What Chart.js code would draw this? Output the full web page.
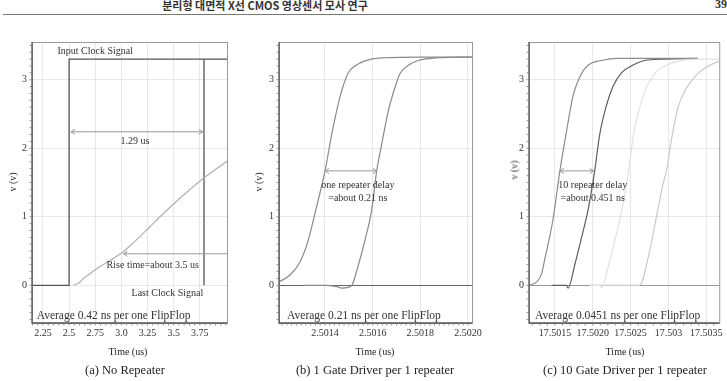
<!DOCTYPE html>
<html>
<head>
<meta charset="utf-8">
<script src="https://cdn.jsdelivr.net/npm/chart.js@4.4.0/dist/chart.umd.min.js"></script>
<style>
  body { margin: 0; background: #fff; width: 727px; height: 381px; overflow: hidden; position: relative; font-family: 'Liberation Serif', serif; color: #222; }
  canvas { position: absolute; left: 0; top: 0; }
  .t { position: absolute; white-space: nowrap; transform: translate(-50%, -50%); }
  .yl { position: absolute; white-space: nowrap; transform: translate(-50%, -50%) rotate(-90deg); font-size: 10px; color: #333; }
  .head { position: absolute; top: -3px; left: 265px; transform: translateX(-50%); font-family: 'Noto Sans CJK KR', sans-serif; font-weight: bold; font-size: 11px; color: #333; white-space: nowrap; }
  .page { position: absolute; top: -3px; right: 0px; font-weight: bold; font-size: 12px; color: #333; }
  .rule { position: absolute; top: 14px; left: 3px; width: 724px; height: 0; border-top: 1.5px solid #777; }
</style>
</head>
<body>
<div class="head">분리형 대면적 X선 CMOS 영상센서 모사 연구</div>
<div class="page">39</div>
<div class="rule"></div>

<canvas id="noRepChart" width="727" height="381"></canvas>
<canvas id="oneRepChart" width="727" height="381"></canvas>
<canvas id="tenRepChart" width="727" height="381"></canvas>

<div class="yl" style="left:12px;top:182px">v (v)</div>
<div class="yl" style="left:258px;top:182px">v (v)</div>
<div class="yl" style="left:514px;top:170px">v (v)</div>

<div class="t" style="left:128px;top:351px;font-size:10px">Time (us)</div>
<div class="t" style="left:375px;top:351px;font-size:10px">Time (us)</div>
<div class="t" style="left:625px;top:351px;font-size:10px">Time (us)</div>

<div class="t" style="left:125px;top:370px;font-size:12.5px">(a) No Repeater</div>
<div class="t" style="left:375px;top:370px;font-size:12.5px">(b) 1 Gate Driver per 1 repeater</div>
<div class="t" style="left:625px;top:370px;font-size:12.5px">(c) 10 Gate Driver per 1 repeater</div>

<script>
// shared y axis
const yTicks = [0, 1, 2, 3];
const yLabels = ['0', '1', '2', '3'];

// (a) no repeater
const noRepTicks = [2.25, 2.5, 2.75, 3.0, 3.25, 3.5, 3.75];
const noRepTickLabels = ['2.25', '2.5', '2.75', '3.0', '3.25', '3.5', '3.75'];
const clockInX = [2.145, 2.5, 2.5, 4.01];
const clockInV = [0, 0, 3.3, 3.3];
const clockLastX = [3.79, 3.79];
const clockLastV = [3.3, 0];
const riseX = [2.54, 2.6, 2.63, 2.7, 2.79, 2.9, 3.0, 3.1, 3.27, 3.37, 3.56, 3.8, 4.01];
const riseV = [0, 0.04, 0.09, 0.17, 0.27, 0.37, 0.47, 0.6, 0.85, 1.0, 1.27, 1.58, 1.81];

// (b) 1 gate driver per repeater
const oneRepTicks = [2.5014, 2.5016, 2.5018, 2.5020];
const oneRepTickLabels = ['2.5014', '2.5016', '2.5018', '2.5020'];
const rep1X = [2.501208, 2.501253, 2.501295, 2.50133, 2.501358, 2.5014, 2.501431, 2.501463, 2.501498, 2.501526, 2.501582, 2.501652, 2.5018, 2.502017];
const rep1V = [0.05, 0.15, 0.34, 0.66, 1.05, 1.67, 2.25, 2.75, 3.1, 3.2, 3.29, 3.32, 3.33, 3.33];
const rep2X = [2.501308, 2.5014, 2.50145, 2.501471, 2.501497, 2.501513, 2.501538, 2.501568, 2.501596, 2.501617, 2.501638, 2.501666, 2.501694, 2.501715, 2.50175, 2.501791, 2.501875, 2.502017];
const rep2V = [0, 0, -0.02, -0.04, -0.03, 0, 0.27, 0.66, 1.1, 1.67, 2.06, 2.55, 2.89, 3.09, 3.21, 3.28, 3.32, 3.33];

// (c) 10 gate drivers per repeater
const tenRepTicks = [17.5015, 17.5020, 17.5025, 17.503, 17.5035];
const tenRepTickLabels = ['17.5015', '17.5020', '17.5025', '17.503', '17.5035'];
const gd1X = [17.501158, 17.501259, 17.501325, 17.50137, 17.50142, 17.501475, 17.501566, 17.501654, 17.501741, 17.501829, 17.501938, 17.502114, 17.502333, 17.503386];
const gd1V = [0, 0.05, 0.17, 0.4, 0.65, 0.96, 1.67, 2.25, 2.77, 3.04, 3.21, 3.28, 3.31, 3.31];
const gd2X = [17.501457, 17.501654, 17.501675, 17.501763, 17.501851, 17.501938, 17.502026, 17.502092, 17.50218, 17.502267, 17.502378, 17.502509, 17.502684, 17.502947, 17.503386];
const gd2V = [0, 0, -0.04, 0.3, 0.69, 1.1, 1.67, 2.2, 2.62, 2.9, 3.1, 3.2, 3.28, 3.3, 3.31];
const gd3X = [17.501961, 17.502092, 17.502118, 17.502211, 17.502299, 17.502386, 17.502474, 17.502539, 17.502628, 17.502714, 17.502825, 17.502957, 17.503132, 17.503395, 17.503671];
const gd3V = [0, 0, -0.03, 0.3, 0.69, 1.1, 1.67, 2.2, 2.62, 2.9, 3.1, 3.2, 3.27, 3.3, 3.3];
const gd4X = [17.50196, 17.502618, 17.50275, 17.502838, 17.502925, 17.50298, 17.503036, 17.503122, 17.503233, 17.503364, 17.503496, 17.503649, 17.503671];
const gd4V = [0, 0, 0.49, 0.98, 1.46, 1.7, 2.1, 2.58, 2.87, 3.06, 3.18, 3.26, 3.27];

const pts = (xs, vs) => xs.map((x, i) => ({x, y: vs[i]}));

Chart.defaults.font.family = "'Liberation Serif', serif";
Chart.defaults.font.size = 10;
Chart.defaults.color = '#333';

const panelDecor = {
  id: 'panelDecor',
  afterDatasetsDraw(chart, args, opts) {
    const {ctx, chartArea: a, scales: {x, y}} = chart;
    ctx.save();
    // frame
    ctx.strokeStyle = '#999';
    ctx.lineWidth = 1;
    ctx.strokeRect(a.left + 0.5, a.top + 0.5, a.right - a.left, a.bottom - a.top);
    ctx.strokeStyle = '#555';
    ctx.lineWidth = 1.3;
    ctx.beginPath();
    ctx.moveTo(a.left, a.top);
    ctx.lineTo(a.left, a.bottom);
    ctx.lineTo(a.right, a.bottom);
    ctx.stroke();

    // minor ticks
    ctx.strokeStyle = '#777';
    ctx.lineWidth = 0.8;
    ctx.beginPath();
    for (let k = Math.ceil(x.min / opts.minorX); k * opts.minorX <= x.max; k++) {
      const px = x.getPixelForValue(k * opts.minorX);
      ctx.moveTo(px, a.bottom);
      ctx.lineTo(px, a.bottom + 2.5);
    }
    for (let k = Math.ceil(y.min / 0.1); k * 0.1 <= y.max; k++) {
      const py = y.getPixelForValue(k * 0.1);
      ctx.moveTo(a.left, py);
      ctx.lineTo(a.left - 2.5, py);
    }
    ctx.stroke();

    // arrows
    ctx.strokeStyle = '#999';
    ctx.lineWidth = 1;
    for (const ar of opts.arrows) {
      const x1 = x.getPixelForValue(ar.x1), x2 = x.getPixelForValue(ar.x2);
      const py = y.getPixelForValue(ar.y);
      ctx.beginPath();
      ctx.moveTo(x1, py);
      ctx.lineTo(x2, py);
      if (ar.start) { ctx.moveTo(x1 + 4, py - 2.5); ctx.lineTo(x1, py); ctx.lineTo(x1 + 4, py + 2.5); }
      if (ar.end) { ctx.moveTo(x2 - 4, py - 2.5); ctx.lineTo(x2, py); ctx.lineTo(x2 - 4, py + 2.5); }
      ctx.stroke();
    }

    // notes
    ctx.fillStyle = '#333';
    ctx.textBaseline = 'middle';
    for (const n of opts.notes) {
      ctx.font = (n.size || 10) + "px 'Liberation Serif'";
      ctx.textAlign = n.align || 'center';
      ctx.fillText(n.text, x.getPixelForValue(n.x), y.getPixelForValue(n.y));
    }
    ctx.restore();
  }
};

function makePanel(id, p) {
  return new Chart(document.getElementById(id).getContext('2d'), {
    type: 'line',
    data: {datasets: p.datasets},
    options: {
      responsive: false,
      animation: false,
      events: [],
      layout: {padding: {left: p.area.left - 30, top: p.area.top, right: 727 - p.area.right, bottom: 381 - p.area.bottom - 20}},
      elements: {point: {radius: 0}, line: {borderWidth: 1.2, tension: 0}},
      plugins: {
        legend: {display: false},
        tooltip: {enabled: false},
        panelDecor: {minorX: p.minorX, arrows: p.arrows, notes: p.notes},
      },
      scales: {
        x: {
          type: 'linear', min: p.xMin, max: p.xMax,
          afterFit: s => { s.height = 20; },
          afterBuildTicks: s => { s.ticks = p.ticks.map(v => ({value: v})); },
          ticks: {autoSkip: false, maxRotation: 0, padding: 4, color: '#333', callback: (v, i) => p.labels[i]},
          grid: {color: '#e8e8e8', drawTicks: false},
          border: {display: false},
        },
        y: {
          min: -0.55, max: 3.55,
          afterFit: s => { s.width = 30; },
          afterBuildTicks: s => { s.ticks = yTicks.map(v => ({value: v})); },
          ticks: {padding: 5, color: '#333', callback: (v, i) => yLabels[i]},
          grid: {color: c => (c.tick && c.tick.value === 0 ? p.zeroColor : '#e8e8e8'), drawTicks: false},
          border: {display: false},
        },
      },
    },
    plugins: [panelDecor],
  });
}

makePanel('noRepChart', {
  area: {left: 32, top: 42, right: 227, bottom: 323},
  xMin: 2.145, xMax: 4.01, ticks: noRepTicks, labels: noRepTickLabels, minorX: 0.05,
  zeroColor: '#e8e8e8',
  datasets: [
    {data: pts(riseX, riseV), borderColor: '#b0b0b0', cubicInterpolationMode: 'monotone'},
    {data: pts(clockInX, clockInV), borderColor: '#555', borderWidth: 1.3},
    {data: pts(clockLastX, clockLastV), borderColor: '#555', borderWidth: 1.3},
  ],
  arrows: [
    {x1: 2.517, x2: 3.778, y: 2.24, start: true, end: true},
    {x1: 3.02, x2: 4.01, y: 0.46, start: true, end: false},
  ],
  notes: [
    {text: 'Input Clock Signal', x: 2.75, y: 3.41},
    {text: '1.29 us', x: 3.13, y: 2.1},
    {text: 'Rise time=about 3.5 us', x: 3.3, y: 0.29},
    {text: 'Last Clock Signal', x: 3.44, y: -0.12},
    {text: 'Average 0.42 ns per one FlipFlop', x: 2.19, y: -0.45, align: 'left', size: 11.5},
  ],
});

makePanel('oneRepChart', {
  area: {left: 279, top: 42, right: 472, bottom: 323},
  xMin: 2.501207, xMax: 2.502017, ticks: oneRepTicks, labels: oneRepTickLabels, minorX: 0.00002,
  zeroColor: '#666',
  datasets: [
    {data: pts(rep1X, rep1V), borderColor: '#8a8a8a', cubicInterpolationMode: 'monotone'},
    {data: pts(rep2X, rep2V), borderColor: '#8a8a8a', cubicInterpolationMode: 'monotone'},
  ],
  arrows: [
    {x1: 2.5014, x2: 2.501618, y: 1.67, start: true, end: true},
  ],
  notes: [
    {text: 'one repeater delay', x: 2.501538, y: 1.46},
    {text: '=about 0.21 ns', x: 2.501538, y: 1.27},
    {text: 'Average 0.21 ns per one FlipFlop', x: 2.501241, y: -0.45, align: 'left', size: 11.5},
  ],
});

makePanel('tenRepChart', {
  area: {left: 529, top: 42, right: 720, bottom: 323},
  xMin: 17.501158, xMax: 17.503671, ticks: tenRepTicks, labels: tenRepTickLabels, minorX: 0.0001,
  zeroColor: '#9a9a9a',
  datasets: [
    {data: pts(gd3X, gd3V), borderColor: '#e2e2e2', cubicInterpolationMode: 'monotone'},
    {data: pts(gd4X, gd4V), borderColor: '#cacaca', cubicInterpolationMode: 'monotone'},
    {data: pts(gd1X, gd1V), borderColor: '#8c8c8c', cubicInterpolationMode: 'monotone'},
    {data: pts(gd2X, gd2V), borderColor: '#5e5e5e', cubicInterpolationMode: 'monotone'},
  ],
  arrows: [
    {x1: 17.501566, x2: 17.502013, y: 1.67, start: true, end: true},
  ],
  notes: [
    {text: '10 repeater delay', x: 17.5020, y: 1.46},
    {text: '=about 0.451 ns', x: 17.5020, y: 1.27},
    {text: 'Average 0.0451 ns per one FlipFlop', x: 17.501237, y: -0.45, align: 'left', size: 11.5},
  ],
});
</script>
</body>
</html>
